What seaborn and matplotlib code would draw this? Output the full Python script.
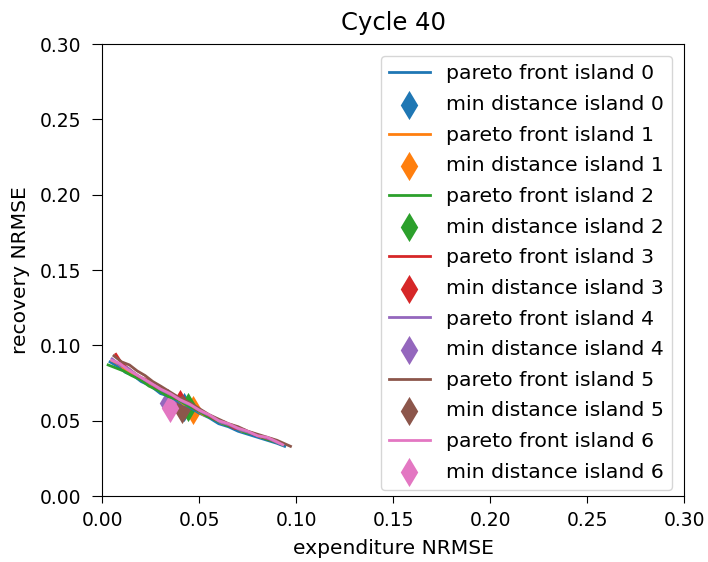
import matplotlib
matplotlib.use("Agg")
import matplotlib.pyplot as plt
import seaborn as sns

# Pareto fronts (expenditure NRMSE, recovery NRMSE) per island at cycle 40
front_x = [
    [0.004, 0.008, 0.012, 0.016, 0.020, 0.025, 0.030, 0.035, 0.040, 0.045,
     0.050, 0.055, 0.060, 0.065, 0.070, 0.075, 0.080, 0.085, 0.090, 0.094],
    [0.005, 0.009, 0.014, 0.018, 0.023, 0.027, 0.032, 0.037, 0.042, 0.047,
     0.052, 0.057, 0.062, 0.067, 0.072, 0.077, 0.082, 0.087, 0.092],
    [0.003, 0.007, 0.011, 0.015, 0.020, 0.024, 0.029, 0.034, 0.039, 0.044,
     0.049, 0.054, 0.059, 0.064, 0.069, 0.074, 0.079, 0.084, 0.089, 0.093],
    [0.007, 0.010, 0.014, 0.019, 0.023, 0.028, 0.033, 0.038, 0.043, 0.048,
     0.053, 0.058, 0.063, 0.068, 0.073, 0.078, 0.083, 0.088, 0.092],
    [0.005, 0.009, 0.013, 0.017, 0.022, 0.026, 0.031, 0.036, 0.041, 0.046,
     0.051, 0.056, 0.061, 0.066, 0.071, 0.076, 0.081, 0.086, 0.091],
    [0.006, 0.010, 0.014, 0.018, 0.022, 0.026, 0.030, 0.035, 0.040, 0.045,
     0.050, 0.055, 0.060, 0.065, 0.070, 0.075, 0.080, 0.085, 0.090, 0.097],
    [0.005, 0.009, 0.013, 0.017, 0.021, 0.025, 0.030, 0.035, 0.040, 0.045,
     0.050, 0.055, 0.060, 0.065, 0.070, 0.075, 0.080, 0.085, 0.090, 0.093],
]
front_y = [
    [0.089, 0.086, 0.082, 0.080, 0.076, 0.073, 0.068, 0.066, 0.062, 0.059,
     0.055, 0.052, 0.048, 0.046, 0.043, 0.041, 0.039, 0.037, 0.035, 0.033],
    [0.090, 0.087, 0.082, 0.080, 0.075, 0.073, 0.068, 0.066, 0.061, 0.059,
     0.054, 0.052, 0.048, 0.047, 0.043, 0.042, 0.039, 0.038, 0.035],
    [0.087, 0.085, 0.083, 0.080, 0.077, 0.073, 0.070, 0.066, 0.064, 0.060,
     0.057, 0.053, 0.050, 0.047, 0.045, 0.042, 0.041, 0.038, 0.036, 0.034],
    [0.094, 0.088, 0.084, 0.079, 0.077, 0.072, 0.070, 0.065, 0.063, 0.058,
     0.055, 0.051, 0.049, 0.045, 0.044, 0.041, 0.039, 0.037, 0.035],
    [0.091, 0.087, 0.085, 0.081, 0.077, 0.074, 0.070, 0.067, 0.063, 0.060,
     0.056, 0.053, 0.049, 0.047, 0.044, 0.042, 0.040, 0.038, 0.035],
    [0.093, 0.089, 0.087, 0.083, 0.080, 0.076, 0.073, 0.069, 0.065, 0.062,
     0.058, 0.054, 0.051, 0.048, 0.046, 0.043, 0.041, 0.039, 0.037, 0.033],
    [0.090, 0.088, 0.084, 0.081, 0.078, 0.075, 0.071, 0.068, 0.064, 0.061,
     0.057, 0.054, 0.050, 0.048, 0.045, 0.043, 0.040, 0.039, 0.036, 0.034],
]

# Point of each front closest to the origin
min_x = [0.042, 0.047, 0.044, 0.040, 0.034, 0.041, 0.035]
min_y = [0.059, 0.057, 0.059, 0.061, 0.062, 0.058, 0.0585]

islands = list(range(7))
colors = sns.color_palette("tab10", 7)
ticks = [0.00, 0.05, 0.10, 0.15, 0.20, 0.25, 0.30]

fig = plt.figure(figsize=(7.08, 5.62), dpi=100)
ax = fig.add_axes([0.1445, 0.1174, 0.822, 0.8043])

for i in islands:
    sns.lineplot(x=front_x[i], y=front_y[i], ax=ax, color=colors[i], sort=False,
                 estimator=None, linewidth=2.0, label=f"pareto front island {i}")
    sns.scatterplot(x=[min_x[i]], y=[min_y[i]], ax=ax, color=colors[i], marker="d",
                    s=220, linewidth=0, label=f"min distance island {i}")

ax.set_xlim(0, 0.30)
ax.set_ylim(0, 0.30)
ax.set_xticks(ticks)
ax.set_yticks(ticks)
ax.set_xticklabels([f"{t:.2f}" for t in ticks])
ax.set_yticklabels([f"{t:.2f}" for t in ticks])
ax.tick_params(axis="x", labelsize=13.5, length=5, pad=6)
ax.tick_params(axis="y", labelsize=13.5, length=7, pad=8.5)
ax.set_xlabel("expenditure NRMSE", fontsize=14.6, labelpad=6)
ax.set_ylabel("recovery NRMSE", fontsize=14.6, labelpad=6.5)
ax.set_title("Cycle 40", fontsize=17.5, pad=10)
ax.legend(loc="upper right", fontsize=14.7, labelspacing=0.57, borderaxespad=0.6)

fig.savefig("out.png", dpi=100)
